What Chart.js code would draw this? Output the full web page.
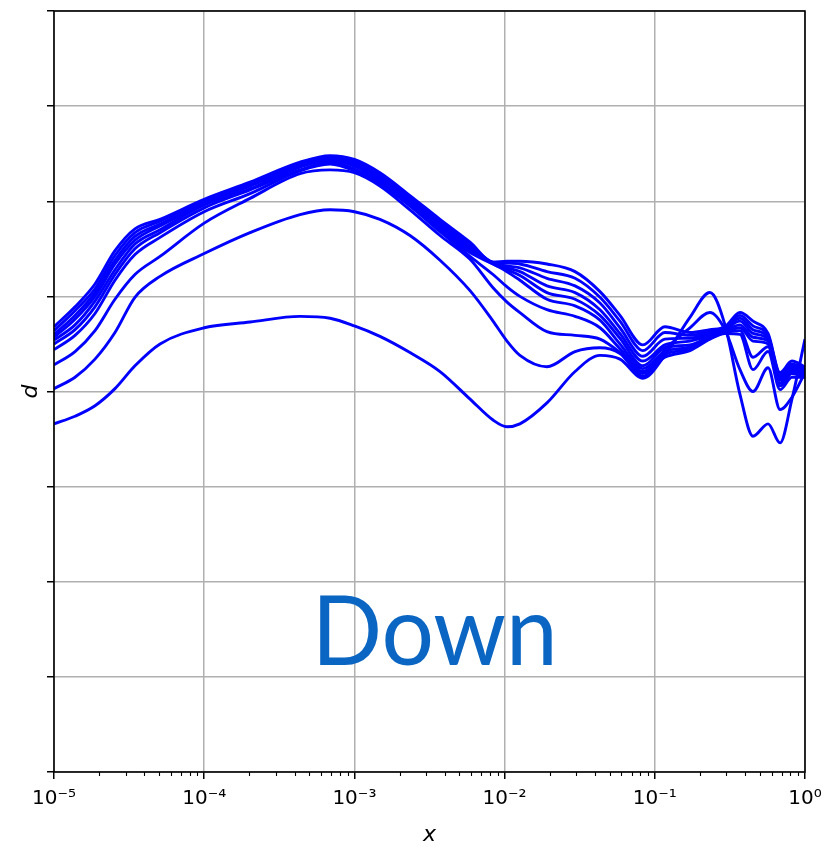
<!DOCTYPE html>
<html>
<head>
<meta charset="utf-8">
<script src="https://cdn.jsdelivr.net/npm/chart.js@4/dist/chart.umd.min.js"></script>
<style>
  html, body { margin: 0; padding: 0; background: #fff; }
  canvas { display: block; }
</style>
</head>
<body>
<canvas id="chart" width="827" height="847"></canvas>
<script>
// Sample positions along x, as powers of ten
const exponents = [-5, -4.86, -4.727, -4.594, -4.461, -4.294, -4, -3.695, -3.362, -3.162, -3,
  -2.83, -2.63, -2.43, -2.23, -2.077, -1.984, -1.898, -1.718, -1.531, -1.365, -1.232,
  -1.079, -0.933, -0.766, -0.633, -0.533, -0.433, -0.346, -0.246, -0.166, -0.087, 0];

const xTickValues = [1e-5, 1e-4, 1e-3, 1e-2, 1e-1, 1];
const xTickLabels = ['10⁻⁵', '10⁻⁴', '10⁻³', '10⁻²', '10⁻¹', '10⁰'];
const yTickValues = [-4, -3, -2, -1, 0, 1, 2, 3, 4];

const curve1 = [-0.34, -0.26, -0.15, 0.03, 0.27, 0.50, 0.67, 0.73, 0.79, 0.77, 0.69, 0.58, 0.41, 0.21, -0.08, -0.30,
  -0.37, -0.34, -0.12, 0.21, 0.38, 0.34, 0.14, 0.38, 0.78, 1.04, 0.70, -0.03, -0.47, -0.34, -0.54, -0.08, 0.55];
const curve2 = [0.03, 0.15, 0.34, 0.62, 0.99, 1.21, 1.45, 1.67, 1.86, 1.91, 1.89, 1.81, 1.64, 1.38, 1.06, 0.74,
  0.53, 0.38, 0.26, 0.42, 0.46, 0.40, 0.16, 0.44, 0.67, 0.83, 0.65, 0.23, 0.00, 0.25, -0.19, -0.06, 0.20];
const curve3 = [0.28, 0.42, 0.64, 0.97, 1.23, 1.42, 1.77, 2.03, 2.29, 2.33, 2.30, 2.16, 1.91, 1.64, 1.39, 1.09,
  0.94, 0.83, 0.63, 0.59, 0.55, 0.41, 0.19, 0.36, 0.43, 0.55, 0.61, 0.60, 0.23, 0.42, 0.02, 0.15, 0.15];
const curve4 = [0.44, 0.59, 0.82, 1.17, 1.44, 1.62, 1.89, 2.08, 2.32, 2.39, 2.32, 2.18, 1.95, 1.68, 1.42, 1.23,
  1.10, 1.00, 0.86, 0.79, 0.67, 0.45, 0.21, 0.39, 0.45, 0.56, 0.62, 0.64, 0.36, 0.47, 0.06, 0.19, 0.16];
const curve5 = [0.50, 0.65, 0.89, 1.23, 1.50, 1.67, 1.93, 2.12, 2.33, 2.41, 2.34, 2.20, 1.96, 1.70, 1.46, 1.34,
  1.26, 1.17, 0.97, 0.90, 0.75, 0.50, 0.24, 0.42, 0.47, 0.57, 0.63, 0.67, 0.53, 0.50, 0.09, 0.21, 0.17];
const curve6 = [0.54, 0.70, 0.95, 1.28, 1.55, 1.70, 1.96, 2.13, 2.36, 2.43, 2.37, 2.22, 1.98, 1.72, 1.48, 1.34,
  1.28, 1.22, 1.04, 0.97, 0.80, 0.56, 0.27, 0.46, 0.49, 0.58, 0.64, 0.70, 0.57, 0.53, 0.12, 0.23, 0.18];
const curve7 = [0.57, 0.76, 1.00, 1.34, 1.59, 1.74, 1.97, 2.16, 2.37, 2.44, 2.39, 2.24, 2.00, 1.75, 1.50, 1.35,
  1.30, 1.26, 1.11, 1.04, 0.86, 0.61, 0.32, 0.49, 0.53, 0.59, 0.65, 0.74, 0.61, 0.55, 0.14, 0.25, 0.20];
const curve8 = [0.60, 0.80, 1.04, 1.38, 1.63, 1.76, 1.99, 2.17, 2.39, 2.46, 2.41, 2.26, 2.02, 1.77, 1.52, 1.35,
  1.32, 1.30, 1.19, 1.11, 0.93, 0.67, 0.37, 0.55, 0.56, 0.61, 0.66, 0.77, 0.65, 0.57, 0.16, 0.27, 0.22];
const curve9 = [0.64, 0.85, 1.08, 1.43, 1.67, 1.79, 2.00, 2.19, 2.40, 2.47, 2.43, 2.28, 2.04, 1.79, 1.55, 1.36,
  1.35, 1.34, 1.26, 1.19, 0.99, 0.74, 0.43, 0.62, 0.59, 0.63, 0.67, 0.80, 0.69, 0.59, 0.18, 0.29, 0.24];
const curve10 = [0.68, 0.89, 1.13, 1.48, 1.71, 1.81, 2.02, 2.20, 2.41, 2.48, 2.44, 2.30, 2.06, 1.81, 1.57, 1.36,
  1.37, 1.37, 1.34, 1.26, 1.05, 0.80, 0.49, 0.68, 0.62, 0.65, 0.68, 0.83, 0.74, 0.61, 0.20, 0.32, 0.26];

const curves = [curve1, curve2, curve3, curve4, curve5, curve6, curve7, curve8, curve9, curve10];
const captionText = 'Down';

const xs = exponents.map(e => Math.pow(10, e));

// Black box around the plotting area
const framePlugin = {
  id: 'frame',
  afterDraw(chart) {
    const { ctx, chartArea: a } = chart;
    ctx.save();
    ctx.strokeStyle = '#000';
    ctx.lineWidth = 1.6;
    ctx.strokeRect(a.left, a.top, a.right - a.left, a.bottom - a.top);
    ctx.restore();
  }
};

// Short minor ticks between the decades of the log axis
const minorTicksPlugin = {
  id: 'minorTicks',
  afterDraw(chart) {
    const { ctx, chartArea: a } = chart;
    const sx = chart.scales.x;
    ctx.save();
    ctx.strokeStyle = '#000';
    ctx.lineWidth = 1.1;
    for (let d = -5; d < 0; d++) {
      for (let m = 2; m <= 9; m++) {
        const px = Math.round(sx.getPixelForValue(m * Math.pow(10, d))) + 0.5;
        ctx.beginPath();
        ctx.moveTo(px, a.bottom);
        ctx.lineTo(px, a.bottom + 4);
        ctx.stroke();
      }
    }
    ctx.restore();
  }
};

// Large caption in the lower part of the plot, slightly condensed
const captionPlugin = {
  id: 'caption',
  afterDraw(chart) {
    const { ctx, chartArea: a } = chart;
    const cx = a.left + 0.507 * (a.right - a.left);
    const cy = a.top + 0.86 * (a.bottom - a.top);
    ctx.save();
    ctx.translate(cx, cy);
    ctx.scale(0.965, 1);
    ctx.font = '400 96px "Lato", "Open Sans", sans-serif';
    ctx.fillStyle = '#0a66c2';
    ctx.textAlign = 'center';
    ctx.textBaseline = 'alphabetic';
    ctx.fillText(captionText, 0, 0);
    ctx.restore();
  }
};

const gridOpts = {
  color: '#b0b0b0',
  lineWidth: 1.5,
  tickColor: '#000',
  tickLength: 7,
  tickWidth: 1.5
};

new Chart(document.getElementById('chart').getContext('2d'), {
  type: 'line',
  data: {
    datasets: curves.map((c, i) => ({
      label: 'curve ' + (i + 1),
      data: c.map((y, j) => ({ x: xs[j], y })),
      borderColor: '#0000ff',
      borderWidth: 2.9,
      pointRadius: 0,
      fill: false,
      cubicInterpolationMode: 'monotone'
    }))
  },
  options: {
    responsive: false,
    animation: false,
    devicePixelRatio: 1,
    layout: { padding: { top: 11, right: 22, left: 0, bottom: 0 } },
    plugins: { legend: { display: false }, tooltip: { enabled: false } },
    scales: {
      x: {
        type: 'logarithmic',
        min: 1e-5,
        max: 1,
        afterBuildTicks: s => { s.ticks = xTickValues.map(v => ({ value: v })); },
        afterFit: s => { s.height = 75; s.paddingLeft = 0; s.paddingRight = 0; },
        border: { display: false },
        grid: gridOpts,
        ticks: {
          autoSkip: false,
          maxRotation: 0,
          padding: 8,
          color: '#000',
          font: { family: 'DejaVu Sans', size: 20 },
          callback: (v) => {
            const i = xTickValues.findIndex(t => Math.abs(Math.log10(t) - Math.log10(v)) < 1e-6);
            return i >= 0 ? xTickLabels[i] : '';
          }
        },
        title: {
          display: true,
          text: 'x',
          color: '#000',
          font: { family: 'DejaVu Sans', style: 'italic', size: 22 },
          padding: { top: 0, bottom: -1 }
        }
      },
      y: {
        min: -4,
        max: 4,
        afterBuildTicks: s => { s.ticks = yTickValues.map(v => ({ value: v })); },
        afterFit: s => { s.width = 54; },
        border: { display: false },
        grid: gridOpts,
        ticks: { callback: () => '' },
        title: {
          display: true,
          text: 'd',
          color: '#000',
          font: { family: 'DejaVu Sans', style: 'italic', size: 22 },
          padding: { top: 18, bottom: 0 }
        }
      }
    }
  },
  plugins: [framePlugin, minorTicksPlugin, captionPlugin]
});
</script>
</body>
</html>
